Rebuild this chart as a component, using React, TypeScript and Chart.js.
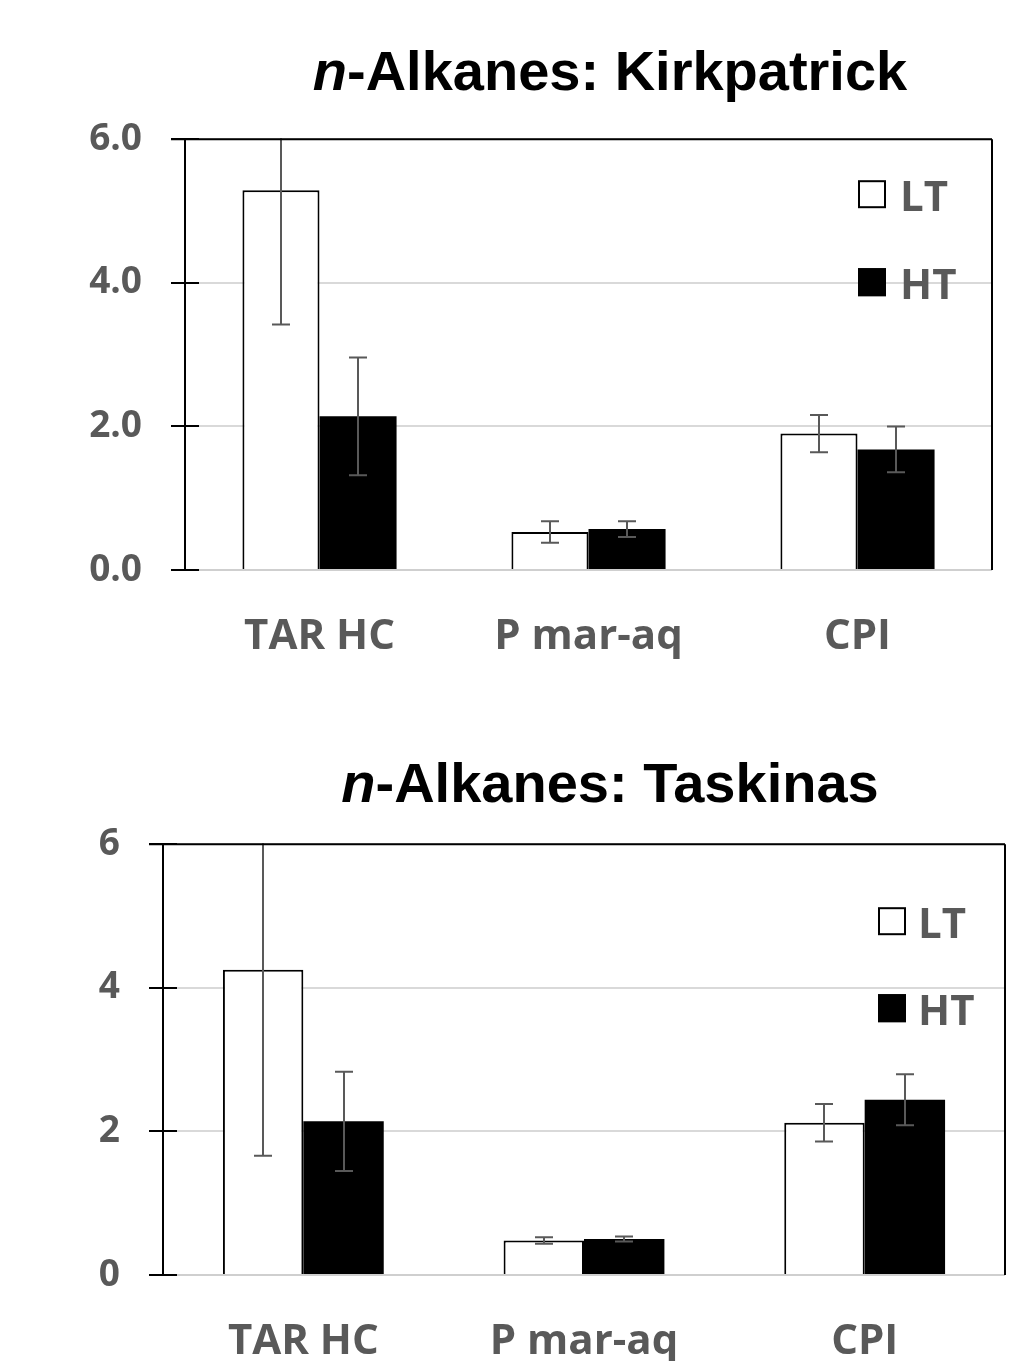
import React, { useEffect, useRef } from "react";
import { Chart, registerables } from "chart.js";

Chart.register(...registerables);

const CATEGORIES = ["TAR HC", "P mar-aq", "CPI"];
const SERIES_NAMES = ["LT", "HT"];

const KIRK_LT = [5.29, 0.53, 1.9];
const KIRK_LT_SD = [1.87, 0.15, 0.26];
const KIRK_HT = [2.14, 0.57, 1.68];
const KIRK_HT_SD = [0.82, 0.11, 0.32];
const KIRK_TICKS = ["0.0", "2.0", "4.0", "6.0"];

const TASK_LT = [4.25, 0.48, 2.12];
const TASK_LT_SD = [2.59, 0.045, 0.26];
const TASK_HT = [2.14, 0.5, 2.44];
const TASK_HT_SD = [0.69, 0.035, 0.355];
const TASK_TICKS = ["0", "2", "4", "6"];

const FONT = "'Open Sans', sans-serif";
const GREY_TEXT = "#595959";

const errorBarPlugin = {
  id: "errorBars",
  afterDatasetsDraw(chart: any, _args: any, opts: any) {
    const { ctx, chartArea } = chart;
    const y = chart.scales.y;
    ctx.save();
    ctx.beginPath();
    ctx.rect(chartArea.left, chartArea.top - 1, chartArea.right - chartArea.left, chartArea.bottom - chartArea.top + 1);
    ctx.clip();
    ctx.strokeStyle = "#595959";
    ctx.lineWidth = 2;
    chart.data.datasets.forEach((ds: any, di: number) => {
      const meta = chart.getDatasetMeta(di);
      const sds = opts.sds[di];
      meta.data.forEach((bar: any, i: number) => {
        const v = ds.data[i];
        const sd = sds[i];
        const yHi = y.getPixelForValue(v + sd);
        const yLo = y.getPixelForValue(v - sd);
        const x = Math.round(bar.x);
        ctx.beginPath();
        ctx.moveTo(x, yHi);
        ctx.lineTo(x, yLo);
        ctx.moveTo(x - 9, yHi);
        ctx.lineTo(x + 9, yHi);
        ctx.moveTo(x - 9, yLo);
        ctx.lineTo(x + 9, yLo);
        ctx.stroke();
      });
    });
    ctx.restore();
  },
};

const framePlugin = {
  id: "frame",
  afterDraw(chart: any) {
    const { ctx, chartArea } = chart;
    const y = chart.scales.y;
    ctx.save();
    ctx.strokeStyle = "#000";
    ctx.lineWidth = 2;
    ctx.beginPath();
    ctx.moveTo(chartArea.left - 14, chartArea.top);
    ctx.lineTo(chartArea.right, chartArea.top);
    ctx.moveTo(chartArea.right, chartArea.top);
    ctx.lineTo(chartArea.right, chartArea.bottom);
    y.ticks.forEach((t: any) => {
      const py = Math.round(y.getPixelForValue(t.value));
      ctx.moveTo(chartArea.left, py);
      ctx.lineTo(chartArea.left + 14, py);
    });
    ctx.stroke();
    ctx.restore();
  },
};

const legendPlugin = {
  id: "boxLegend",
  afterDraw(chart: any, _args: any, opts: any) {
    const { ctx, chartArea } = chart;
    ctx.save();
    ctx.font = `bold 42px ${FONT}`;
    ctx.textBaseline = "alphabetic";
    ctx.textAlign = "left";
    chart.data.datasets.forEach((ds: any, i: number) => {
      const bx = chartArea.right - opts.fromRight;
      const by = chartArea.top + opts.rows[i];
      ctx.fillStyle = ds.backgroundColor;
      ctx.fillRect(bx, by, 28, 28);
      ctx.strokeStyle = "#000";
      ctx.lineWidth = 2;
      ctx.strokeRect(bx + 1, by + 1, 26, 26);
      ctx.fillStyle = GREY_TEXT;
      ctx.fillText(ds.label, bx + opts.textGap, by + 31);
    });
    ctx.restore();
  },
};

type PanelProps = {
  top: number;
  lt: number[];
  ltSd: number[];
  ht: number[];
  htSd: number[];
  ticks: string[];
  yWidth: number;
  rightPad: number;
  legend: { fromRight: number; rows: number[]; textGap: number };
};

const CANVAS_H = 582;

function Panel(p: PanelProps) {
  const ref = useRef<HTMLCanvasElement>(null);
  useEffect(() => {
    const chart = new Chart(ref.current as HTMLCanvasElement, {
      type: "bar",
      data: {
        labels: CATEGORIES,
        datasets: [
          {
            label: SERIES_NAMES[0],
            data: p.lt,
            backgroundColor: "#ffffff",
            borderColor: "#000000",
            borderWidth: 2,
          },
          {
            label: SERIES_NAMES[1],
            data: p.ht,
            backgroundColor: "#000000",
            borderColor: "#000000",
            borderWidth: 0,
          },
        ],
      },
      options: {
        animation: false,
        responsive: false,
        devicePixelRatio: 1,
        layout: { padding: { top: 40, right: p.rightPad, left: 0, bottom: 0 } },
        datasets: { bar: { categoryPercentage: 0.573, barPercentage: 1.0 } },
        plugins: {
          legend: { display: false },
          title: { display: false },
          tooltip: { enabled: false },
          errorBars: { sds: [p.ltSd, p.htSd] },
          boxLegend: p.legend,
        } as any,
        scales: {
          x: {
            grid: { display: false, drawTicks: false },
            border: { display: false },
            ticks: {
              font: { family: FONT, size: 42, weight: "bold" },
              color: GREY_TEXT,
              padding: 42,
            },
            afterFit: (s: any) => {
              s.height = 100;
            },
          },
          y: {
            min: 0,
            max: 6,
            ticks: {
              stepSize: 2,
              font: { family: FONT, size: 37, weight: "bold" },
              color: GREY_TEXT,
              padding: 29,
              callback: (_v: any, i: number) => p.ticks[i],
            },
            grid: {
              color: (c: any) => (c.tick && c.tick.value === 0 ? "#cfcfcf" : "#d9d9d9"),
              lineWidth: 2,
              tickLength: 14,
              tickColor: "#000000",
              tickWidth: 2,
            },
            border: { display: true, color: "#000000", width: 2 },
            afterFit: (s: any) => {
              s.width = p.yWidth;
            },
          },
        },
      } as any,
      plugins: [errorBarPlugin, framePlugin, legendPlugin],
    });
    return () => chart.destroy();
  }, []);
  return (
    <canvas
      ref={ref}
      width={1016}
      height={CANVAS_H}
      style={{ position: "absolute", left: 0, top: p.top, width: 1016, height: CANVAS_H, display: "block" }}
    />
  );
}

const titleStyle = (top: number): React.CSSProperties => ({
  position: "absolute",
  left: 0,
  width: 1220,
  top,
  textAlign: "center",
  fontFamily: "'Liberation Sans', Arial, sans-serif",
  fontWeight: "bold",
  fontSize: 56,
  lineHeight: "56px",
  color: "#000",
  whiteSpace: "nowrap",
});

export default function App() {
  return (
    <div
      style={{
        position: "absolute",
        left: 0,
        top: 0,
        width: 1016,
        height: 1361,
        overflow: "hidden",
        background: "#fff",
      }}
    >
      <div style={titleStyle(43)}>
        <i>n</i>-Alkanes: Kirkpatrick
      </div>
      <Panel
        top={88}
        lt={KIRK_LT}
        ltSd={KIRK_LT_SD}
        ht={KIRK_HT}
        htSd={KIRK_HT_SD}
        ticks={KIRK_TICKS}
        yWidth={185}
        rightPad={24}
        legend={{ fromRight: 134, rows: [41, 129], textGap: 42 }}
      />
      <div style={titleStyle(755)}>
        <i>n</i>-Alkanes: Taskinas
      </div>
      <Panel
        top={793}
        lt={TASK_LT}
        ltSd={TASK_LT_SD}
        ht={TASK_HT}
        htSd={TASK_HT_SD}
        ticks={TASK_TICKS}
        yWidth={163}
        rightPad={11}
        legend={{ fromRight: 127, rows: [63, 150], textGap: 40 }}
      />
    </div>
  );
}
